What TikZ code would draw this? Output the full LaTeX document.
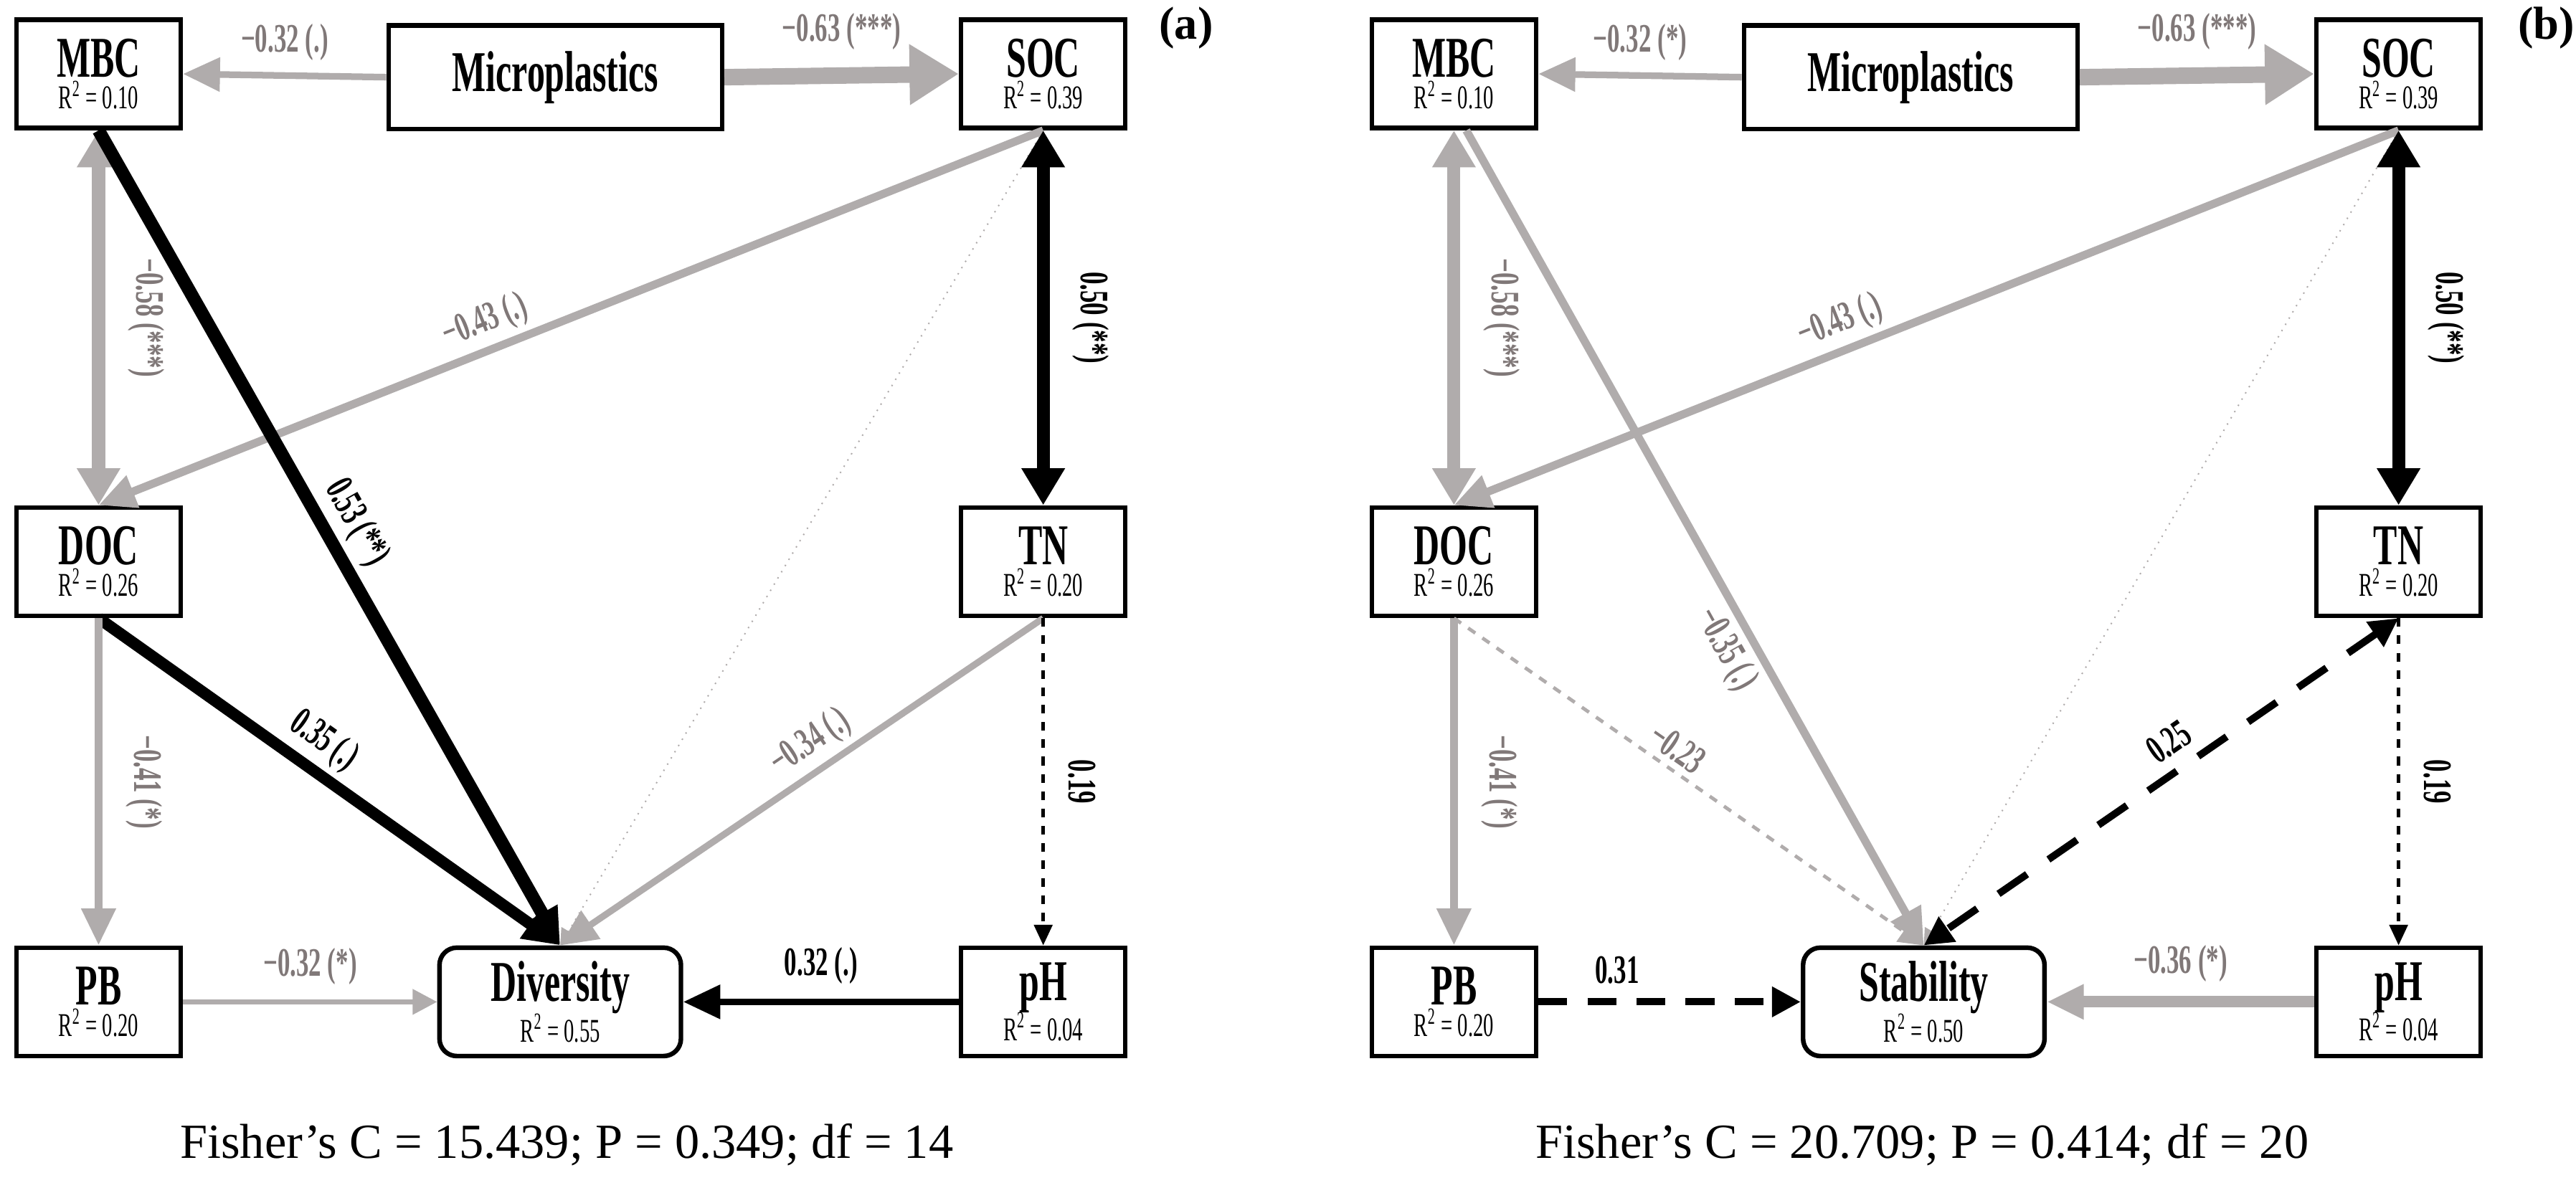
\documentclass[tikz,border=0pt]{standalone}
\usepackage{fontspec}
\usepackage{graphicx}
\setmainfont{Liberation Serif}
\usetikzlibrary{arrows.meta}
\definecolor{gl}{HTML}{B0ACAC}
\definecolor{gt}{HTML}{807878}
\newcommand{\sq}[1]{\scalebox{0.62}[1]{#1}}
\newcommand{\nmf}{\fontsize{20}{20}\bfseries\selectfont}
\newcommand{\bx}[2]{{\nmf\sq{#1}}\\[-1pt]{\fontsize{11.5}{12}\selectfont\sq{R\textsuperscript{2} = #2}}}
\begin{document}
\begin{tikzpicture}[x=0.02cm,y=-0.02cm,
  box/.style={draw,line width=1.6pt,minimum width=2cm,minimum height=1.32cm,align=center,inner sep=0pt,fill=white},
  rbox/.style={box,rounded corners=6pt,minimum width=2.94cm},
  mbox/.style={box,minimum width=4.06cm,minimum height=1.26cm,font=\nmf},
  gar/.style={color=gl,-{Triangle[length=4.5mm,width=4mm]}},
  bar/.style={color=black,-{Triangle[length=4.5mm,width=4mm]}},
  lab/.style={font=\fontsize{14}{14}\bfseries\selectfont,inner sep=2pt},
  glab/.style={lab,text=gt},
  blab/.style={lab,text=black},
  pl/.style={font=\fontsize{16}{16}\bfseries\selectfont}
]
\useasboundingbox (0,0) rectangle (1568,726);
% ---------- panel a
\node[box] (mbc) at (60,45) {\bx{MBC}{0.10}};
\node[mbox] (mic) at (338,47) {\sq{Microplastics}};
\node[box] (soc) at (635,45) {\bx{SOC}{0.39}};
\node[box] (doc) at (60,342) {\bx{DOC}{0.26}};
\node[box] (tn) at (635,342) {\bx{TN}{0.20}};
\node[box] (pb) at (60,610) {\bx{PB}{0.20}};
\node[rbox] (div) at (341,610) {\bx{Diversity}{0.55}};
\node[box] (ph) at (635,610) {\bx{pH}{0.04}};
\node[pl] (la) at (722,17) {(a)};
\node[font=\fontsize{17}{18}\selectfont] (fa) at (345,697) {Fisher's C = 15.439; P = 0.349; df = 14};

\draw[gar,line width=2.3pt] (mic.west) -- node[glab,above=2pt]{\sq{−0.32 (.)}} (mbc.east);
\draw[gar,line width=5.7pt,-{Triangle[length=6mm,width=7mm]}] (mic.east) -- node[glab,above=4pt]{\sq{−0.63 (***)}} (soc.west);
\draw[gar,line width=4.5pt,{Triangle[length=4.5mm,width=5mm]}-{Triangle[length=4.5mm,width=5mm]}] (mbc.south) -- node[glab,rotate=-90,anchor=south,above=6pt]{\sq{−0.58 (***)}} (doc.north);
\draw[gar,line width=2.8pt] (soc.south) -- node[glab,sloped,above,pos=0.58]{\sq{−0.43 (.)}} (doc.north);
\draw[gl,line width=0.5pt,dotted,-{Triangle[length=2mm,width=2mm]}] (soc.south) -- (div.north);
\draw[bar,line width=4.5pt,{Triangle[length=4.5mm,width=5mm]}-{Triangle[length=4.5mm,width=5mm]}] (soc.south) -- node[blab,rotate=-90,anchor=south,above=6pt]{\sq{0.50 (**)}} (tn.north);
\draw[bar,line width=4.5pt] (mbc.south) -- node[blab,sloped,above,pos=0.5]{\sq{0.53 (**)}} (div.north);
\draw[bar,line width=4pt] (doc.south) -- node[blab,sloped,above,pos=0.45]{\sq{0.35 (.)}} (div.north);
\draw[gar,line width=2.3pt] (tn.south) -- node[glab,sloped,above,pos=0.45]{\sq{−0.34 (.)}} (div.north);
\draw[bar,line width=1.2pt,dashed,-{Triangle[length=2.5mm,width=2.2mm]}] (tn.south) -- node[blab,rotate=-90,anchor=south,above=6pt]{\sq{0.19}} (ph.north);
\draw[gar,line width=2.8pt] (doc.south) -- node[glab,rotate=-90,anchor=south,above=6pt]{\sq{−0.41 (*)}} (pb.north);
\draw[gar,line width=1.7pt,-{Triangle[length=3mm,width=3mm]}] (pb.east) -- node[glab,above=3pt]{\sq{−0.32 (*)}} (div.west);
\draw[bar,line width=2.3pt] (ph.west) -- node[blab,above=3pt]{\sq{0.32 (.)}} (div.east);

% ---------- panel b
\node[box] (bmbc) at (885,45) {\bx{MBC}{0.10}};
\node[mbox] (bmic) at (1163,47) {\sq{Microplastics}};
\node[box] (bsoc) at (1460,45) {\bx{SOC}{0.39}};
\node[box] (bdoc) at (885,342) {\bx{DOC}{0.26}};
\node[box] (btn) at (1460,342) {\bx{TN}{0.20}};
\node[box] (bpb) at (885,610) {\bx{PB}{0.20}};
\node[rbox] (stab) at (1171,610) {\bx{Stability}{0.50}};
\node[box] (bph) at (1460,610) {\bx{pH}{0.04}};
\node[pl] (lb) at (1550,17) {(b)};
\node[font=\fontsize{17}{18}\selectfont] (fb) at (1170,697) {Fisher's C = 20.709; P = 0.414; df = 20};

\draw[gar,line width=2.3pt] (bmic.west) -- node[glab,above=2pt]{\sq{−0.32 (*)}} (bmbc.east);
\draw[gar,line width=5.7pt,-{Triangle[length=6mm,width=7mm]}] (bmic.east) -- node[glab,above=4pt]{\sq{−0.63 (***)}} (bsoc.west);
\draw[gar,line width=4.5pt,{Triangle[length=4.5mm,width=5mm]}-{Triangle[length=4.5mm,width=5mm]}] (bmbc.south) -- node[glab,rotate=-90,anchor=south,above=6pt]{\sq{−0.58 (***)}} (bdoc.north);
\draw[gar,line width=2.8pt] (bsoc.south) -- node[glab,sloped,above,pos=0.58]{\sq{−0.43 (.)}} (bdoc.north);
\draw[gl,line width=0.5pt,dotted,-{Triangle[length=2mm,width=2mm]}] (bsoc.south) -- (stab.north);
\draw[bar,line width=4.5pt,{Triangle[length=4.5mm,width=5mm]}-{Triangle[length=4.5mm,width=5mm]}] (bsoc.south) -- node[blab,rotate=-90,anchor=south,above=6pt]{\sq{0.50 (**)}} (btn.north);
\draw[gar,line width=2.8pt] ([xshift=0.15cm]bmbc.south) -- node[glab,sloped,below,pos=0.62]{\sq{−0.35 (.)}} (stab.north);
\draw[gl,line width=1.2pt,dashed,-{Triangle[length=3mm,width=3mm]}] (bdoc.south) -- node[glab,sloped,above,pos=0.45]{\sq{−0.23}} (stab.north);
\draw[bar,line width=2.5pt,dash pattern=on 12pt off 9pt,{Triangle[length=3.5mm,width=3.5mm]}-{Triangle[length=3.5mm,width=3.5mm]}] (btn.south) -- node[blab,sloped,above=2pt,pos=0.45]{\sq{0.25}} (stab.north);
\draw[bar,line width=1.2pt,dashed,-{Triangle[length=2.5mm,width=2.2mm]}] (btn.south) -- node[blab,rotate=-90,anchor=south,above=6pt]{\sq{0.19}} (bph.north);
\draw[gar,line width=2.8pt] (bdoc.south) -- node[glab,rotate=-90,anchor=south,above=6pt]{\sq{−0.41 (*)}} (bpb.north);
\draw[bar,line width=2.5pt,dash pattern=on 10pt off 7pt,-{Triangle[length=3.5mm,width=3.5mm]}] (bpb.east) -- node[blab,above=3pt,pos=0.3]{\sq{0.31}} (stab.west);
\draw[gar,line width=4pt] (bph.west) -- node[glab,above=3pt]{\sq{−0.36 (*)}} (stab.east);
\end{tikzpicture}
\end{document}
